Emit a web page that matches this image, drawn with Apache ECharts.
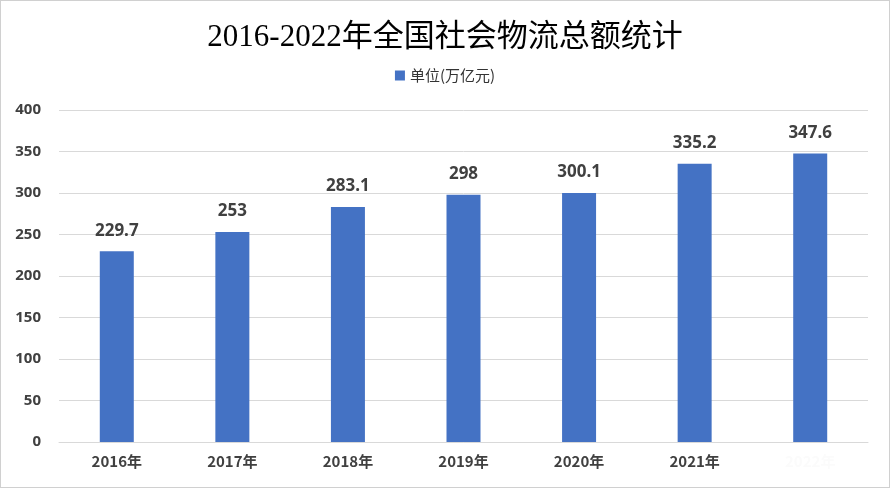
<!DOCTYPE html>
<html><head><meta charset="utf-8">
<script src="https://cdn.jsdelivr.net/npm/echarts@6/dist/echarts.min.js"></script>
<style>html,body{margin:0;padding:0;background:#fff}#c{width:888px;height:486px;border:1px solid #d0d0d0}</style>
</head><body><div id="c"></div>
<script>
const categories = ['2016年','2017年','2018年','2019年','2020年','2021年','2022年'];
const values = [229.7, 253, 283.1, 298, 300.1, 335.2, 347.6];
const seriesName = '单位(万亿元)';
const chart = echarts.init(document.getElementById('c'));
chart.setOption({
  animation:false,
  title:{text:'2016-2022年全国社会物流总额统计',left:'center',top:16,
    textStyle:{fontFamily:'Liberation Serif, Noto Sans CJK SC, serif',fontSize:31,fontWeight:'normal',color:'#000'}},
  legend:{top:62,left:'center',icon:'rect',itemWidth:10,itemHeight:10,
    textStyle:{fontFamily:'Noto Sans CJK SC',fontSize:15,color:'#333'}},
  grid:{left:58,right:21,top:109,bottom:45},
  xAxis:{type:'category',data:categories,
    axisLine:{lineStyle:{color:'#d9d9d9'}},axisTick:{show:false},
    axisLabel:{fontFamily:'Noto Sans CJK SC',fontSize:15,fontWeight:'bold',color:'#404040',margin:12,
      formatter:v=>v==='2022年'?'{h|'+v+'}':v,rich:{h:{color:'#fbfbfb',fontSize:15,fontWeight:'bold'}}}},
  yAxis:{type:'value',min:0,max:400,interval:50,
    splitLine:{lineStyle:{color:'#d9d9d9'}},axisLine:{show:false},axisTick:{show:false},
    axisLabel:{fontFamily:'Noto Sans',fontSize:15,fontWeight:'bold',color:'#404040',margin:18}},
  series:[{name:seriesName,type:'bar',data:values,barWidth:34,
    itemStyle:{color:'#4472c4'},
    label:{show:true,position:'top',distance:12,fontFamily:'Noto Sans',fontSize:17,fontWeight:'bold',color:'#404040'}}]
});
</script></body></html>
